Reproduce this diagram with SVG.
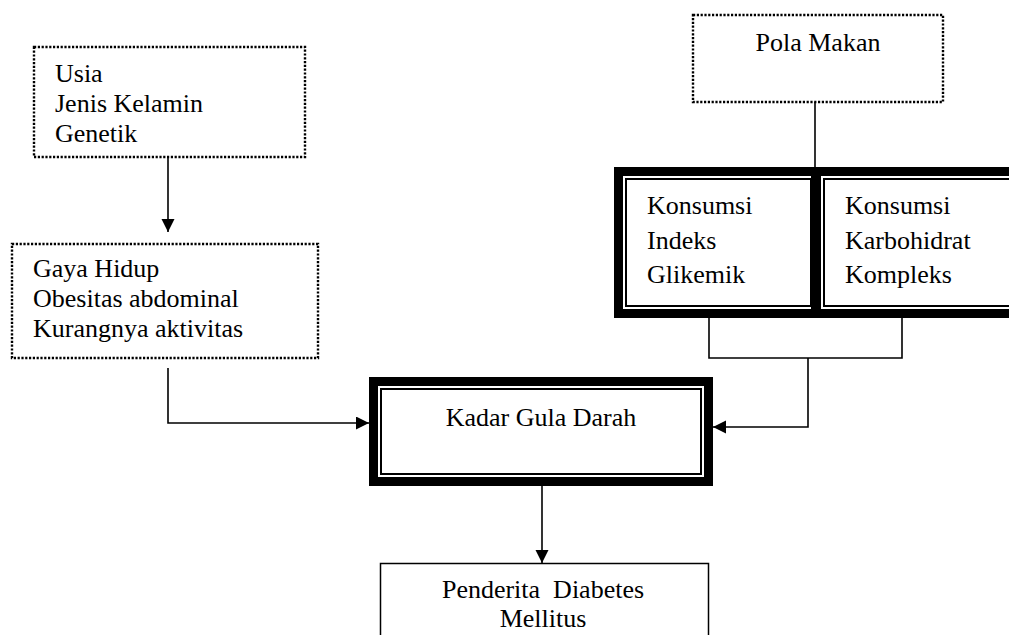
<svg xmlns="http://www.w3.org/2000/svg" width="1009" height="635" viewBox="0 0 1009 635">
<style>
text{font-family:"Liberation Serif","Times New Roman",serif;font-size:26px;fill:#000;white-space:pre}
.dot{fill:none;stroke:#000;stroke-width:2.4;stroke-dasharray:2.2 1.6}
.thick{fill:none;stroke:#000;stroke-width:9}
.thin{fill:none;stroke:#000;stroke-width:2}
.plain{fill:none;stroke:#000;stroke-width:1.5}
.con{fill:none;stroke:#000;stroke-width:1.6}
.c{text-anchor:middle}
</style>
<defs>
<marker id="arr" markerUnits="userSpaceOnUse" markerWidth="14" markerHeight="14" refX="13" refY="6.5" orient="auto">
<path d="M0,0 L13,6.5 L0,13 z" fill="#000"/>
</marker>
</defs>
<rect width="1009" height="635" fill="#fff"/>
<g id="connectors">
<path class="con" d="M168,156 V232" marker-end="url(#arr)"/>
<path class="con" d="M168,368 V423 H369" marker-end="url(#arr)"/>
<path class="con" d="M815,102 V167"/>
<path class="con" d="M709,318 V358 H902 V318"/>
<path class="con" d="M808,358 V427 H713" marker-end="url(#arr)"/>
<path class="con" d="M542,486 V563" marker-end="url(#arr)"/>
</g>
<g id="usia">
<rect class="dot" x="34" y="47" width="271" height="110"/>
<text x="55" y="82">Usia</text>
<text x="55" y="112">Jenis Kelamin</text>
<text x="55" y="142">Genetik</text>
</g>
<g id="gaya-hidup">
<rect class="dot" x="12" y="244" width="306" height="114"/>
<text x="33" y="277">Gaya Hidup</text>
<text x="33" y="307">Obesitas abdominal</text>
<text x="33" y="337">Kurangnya aktivitas</text>
</g>
<g id="pola-makan">
<rect class="dot" x="693" y="15" width="250" height="87"/>
<text class="c" x="818" y="51">Pola Makan</text>
</g>
<g id="konsumsi-indeks">
<rect class="thick" x="618.5" y="171.5" width="197" height="142"/>
<rect class="thin" x="626" y="179" width="185" height="127"/>
<text x="647" y="214">Konsumsi</text>
<text x="647" y="249">Indeks</text>
<text x="647" y="283">Glikemik</text>
</g>
<g id="konsumsi-karbohidrat">
<rect class="thick" x="816.5" y="171.5" width="200" height="142"/>
<rect class="thin" x="824" y="179" width="190" height="127"/>
<text x="845" y="214">Konsumsi</text>
<text x="845" y="249">Karbohidrat</text>
<text x="845" y="283">Kompleks</text>
</g>
<g id="kadar-gula-darah">
<rect class="thick" x="373.5" y="381.5" width="335" height="100"/>
<rect class="thin" x="381" y="389" width="320" height="85"/>
<text class="c" x="541" y="426">Kadar Gula Darah</text>
</g>
<g id="penderita">
<rect class="plain" x="380.5" y="563.5" width="328" height="80"/>
<text class="c" x="543" y="598">Penderita  Diabetes</text>
<text class="c" x="543" y="627">Mellitus</text>
</g>
</svg>
